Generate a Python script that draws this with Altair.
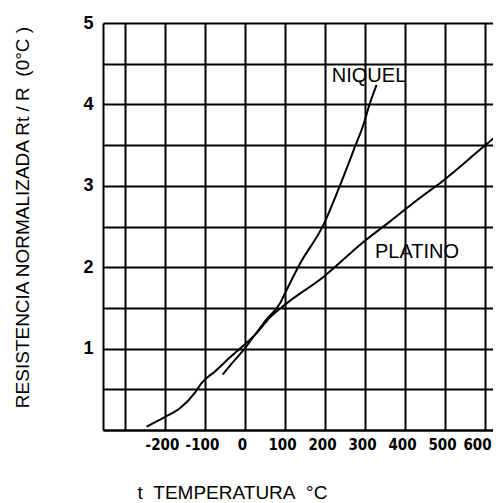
import altair as alt
import pandas as pd

# Curve values (temperature in °C, normalized resistance)
pt_t = [-246, -200, -162, -125, -108, -75, -38, -8, 29, 62, 100, 196, 296, 362, 437, 492, 596, 638]
pt_r = [0.04, 0.16, 0.27, 0.46, 0.58, 0.72, 0.89, 1.02, 1.19, 1.38, 1.54, 1.88, 2.31, 2.56, 2.85, 3.05, 3.48, 3.65]

ni_t = [-56, -29, -4, 25, 54, 88, 96, 137, 196, 233, 275, 296, 312, 329]
ni_r = [0.68, 0.84, 0.98, 1.17, 1.36, 1.56, 1.64, 2.04, 2.52, 2.95, 3.48, 3.75, 4.01, 4.24]

x_ticks = [-300, -200, -100, 0, 100, 200, 300, 400, 500, 600]
y_ticks = [0, 0.5, 1, 1.5, 2, 2.5, 3, 3.5, 4, 4.5, 5]

names = ["NIQUEL", "PLATINO"]
name_t = [217, 325]
name_r = [4.28, 2.107]

curves = pd.DataFrame({
    "t": pt_t + ni_t,
    "r": pt_r + ni_r,
    "metal": ["PLATINO"] * len(pt_t) + ["NIQUEL"] * len(ni_t),
})
notes = pd.DataFrame({"t": name_t, "r": name_r, "name": names})

FONT = "Liberation Sans, Arial, Helvetica, sans-serif"
NARROW = "Liberation Sans Narrow, Arial Narrow, DejaVu Sans Condensed, sans-serif"

xscale = alt.Scale(domain=[-355, 620], nice=False, zero=False)
yscale = alt.Scale(domain=[0, 5], nice=False, zero=False)

xaxis = alt.Axis(
    values=x_ticks, grid=True, gridColor="black", gridWidth=2, gridOpacity=1,
    domainColor="black", domainWidth=2, ticks=False,
    labelExpr="datum.value == -300 ? '' : '' + datum.value",
    labelFont=NARROW, labelFontSize=15, labelFontWeight="bold", labelColor="black",
    labelPadding=7,
    labelOffset={"condition": {"test": "datum.value == 600", "value": -8}, "value": -3},
    labelFlush=False, labelOverlap=False,
    title="t\u00a0\u00a0TEMPERATURA\u00a0\u00a0°C",
    titleFont=FONT, titleFontSize=19, titleFontWeight="normal", titleColor="black",
    titleX=34, titleY=68, titleAlign="left", titleAnchor="start", titleBaseline="alphabetic",
)
yaxis = alt.Axis(
    values=y_ticks, grid=True, gridColor="black", gridWidth=2, gridOpacity=1,
    domainColor="black", domainWidth=2, ticks=False,
    labelExpr="datum.value > 0 && datum.value % 1 == 0 ? '' + datum.value : ''",
    labelFont=FONT, labelFontSize=18, labelFontWeight="bold", labelColor="black",
    labelPadding=10, labelFlush=False, labelOverlap=False,
    title="RESISTENCIA NORMALIZADA Rt / R\u00a0\u00a0(0°C )",
    titleFont=FONT, titleFontSize=19, titleFontWeight="normal", titleColor="black",
    titleX=-74.5, titleY=194, titleAngle=270, titleAlign="center", titleBaseline="alphabetic",
)

lines = alt.Chart(curves).mark_line(color="black", strokeWidth=2, clip=True, interpolate="monotone").encode(
    x=alt.X("t:Q", scale=xscale, axis=xaxis),
    y=alt.Y("r:Q", scale=yscale, axis=yaxis),
    detail="metal:N",
)

text = alt.Chart(notes).mark_text(
    align="left", baseline="alphabetic", font=FONT, fontSize=20, color="black"
).encode(
    x=alt.X("t:Q", scale=xscale),
    y=alt.Y("r:Q", scale=yscale),
    text="name:N",
)

chart = alt.layer(lines, text).properties(
    width=390, height=407,
    autosize=alt.AutoSizeParams(type="none"),
    padding={"left": 95, "top": 15, "right": 0, "bottom": 72},
    background="white",
).configure_view(stroke=None)

chart.save("out.html", embed_options={"renderer": "svg", "actions": False})
